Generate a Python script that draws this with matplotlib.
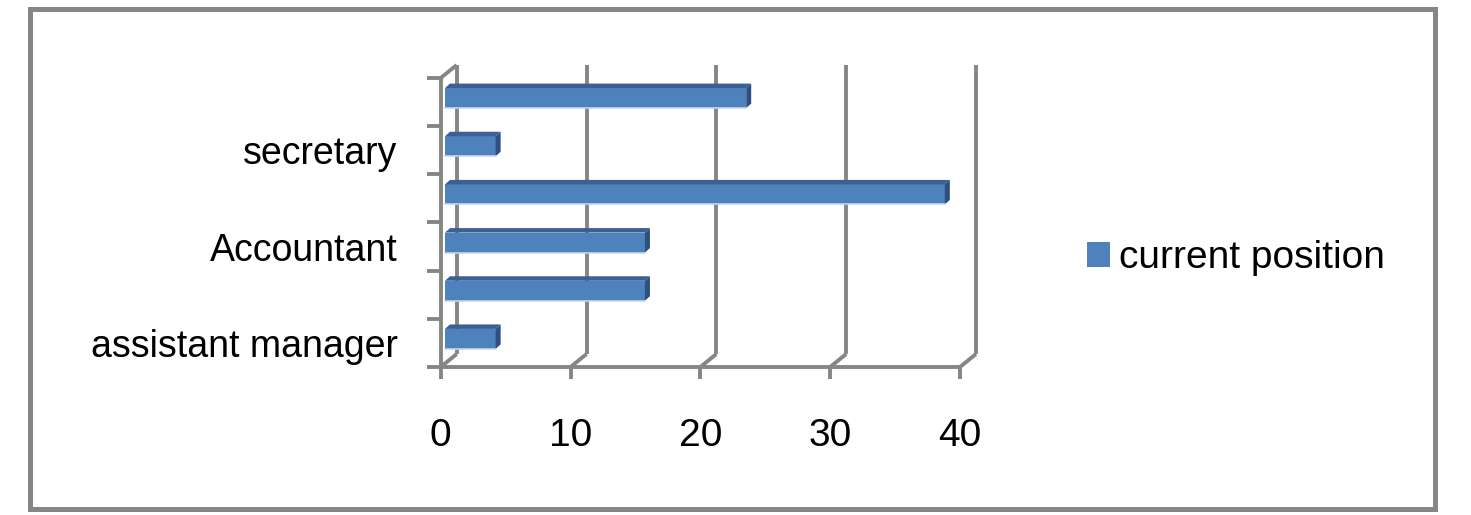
import numpy as np
import matplotlib
matplotlib.use("Agg")
import matplotlib.pyplot as plt
from matplotlib.patches import Polygon, Rectangle
from matplotlib.transforms import ScaledTranslation

# data (bottom to top); only every other category label is shown in the chart
categories = ["assistant manager", "", "Accountant", "", "secretary", ""]
values = [3.9, 15.4, 15.4, 38.5, 3.9, 23.2]
series_name = "current position"
x_ticks = [0, 10, 20, 30, 40]

W, H, DPI = 1471, 515, 100
GRAY = "#868686"
FRONT = "#4f81bd"
TOP = "#3a6193"
SIDE = "#2d5080"

plt.rcParams["font.family"] = ["Liberation Sans", "DejaVu Sans"]

fig = plt.figure(figsize=(W / DPI, H / DPI), dpi=DPI)


def px_rect(x0, y_top, x1, y_bot):
    return [x0 / W, 1 - y_bot / H, (x1 - x0) / W, (y_bot - y_top) / H]


# outer chart border
fig.add_artist(Rectangle((30 / W, 1 - 509 / H), 1405 / W, 500 / H,
                         transform=fig.transFigure, fill=False,
                         edgecolor=GRAY, linewidth=3.6))

ax_left, ax_right, ax_top, ax_bot = 440.7, 960.0, 78.0, 367.0
ax = fig.add_axes(px_rect(ax_left, ax_top, ax_right, ax_bot))
ax.set_facecolor("none")
n = len(categories)
ax.set_xlim(x_ticks[0], x_ticks[-1])
ax.set_ylim(-0.5, n - 0.5)

sx = (ax_right - ax_left) / (x_ticks[-1] - x_ticks[0])  # px per unit
sy = (ax_bot - ax_top) / n                              # px per category

# depth offsets (pixels -> data units)
BACK_DX, BACK_DY = 16 / sx, 13 / sy
MID_DX, MID_DY = 4.3 / sx, 4.0 / sy
BAR_DX, BAR_DY = 5.0 / sx, 4.5 / sy
LW = 2.8

# back wall gridlines
back_tr = ax.transData + ScaledTranslation(16 / DPI, 13 / DPI, fig.dpi_scale_trans)
for v in x_ticks:
    ax.plot([v, v], [-0.5, n - 0.5], color=GRAY, lw=LW, transform=back_tr,
            clip_on=False, zorder=0.5, solid_capstyle="butt")
    ax.plot([v, v + BACK_DX], [-0.5, -0.5 + BACK_DY], color=GRAY, lw=LW,
            clip_on=False, zorder=0.5, solid_capstyle="butt")
ax.plot([0, BACK_DX], [n - 0.5, n - 0.5 + BACK_DY], color=GRAY, lw=LW,
        clip_on=False, zorder=0.5, solid_capstyle="butt")

# bars: front face + top and side faces
ypos = np.arange(n)
bars = ax.barh(ypos + MID_DY, values, left=MID_DX, height=0.415,
               color=FRONT, zorder=1, label=series_name, clip_on=False)
for b in bars:
    x0, y0, w, h = b.get_x(), b.get_y(), b.get_width(), b.get_height()
    x1, y1 = x0 + w, y0 + h
    ax.add_patch(Polygon([(x0, y1), (x1, y1), (x1 + BAR_DX, y1 + BAR_DY),
                          (x0 + BAR_DX, y1 + BAR_DY)], closed=True,
                         facecolor=TOP, edgecolor="none", zorder=1, clip_on=False))
    ax.add_patch(Polygon([(x1, y0), (x1, y1), (x1 + BAR_DX, y1 + BAR_DY),
                          (x1 + BAR_DX, y0 + BAR_DY)], closed=True,
                         facecolor=SIDE, edgecolor="none", zorder=1, clip_on=False))
    ax.plot([x0, x1], [y0, y0], color="#c6d6ea", lw=1.2, zorder=1.1,
            clip_on=False)

# axes
for side in ("top", "right"):
    ax.spines[side].set_visible(False)
for side in ("left", "bottom"):
    ax.spines[side].set_color(GRAY)
    ax.spines[side].set_linewidth(LW)
    ax.spines[side].set_zorder(2)

ax.set_xticks(x_ticks)
ax.set_xticklabels([str(t) for t in x_ticks], fontsize=28)
ax.tick_params(axis="x", length=8.6, width=LW, color=GRAY, pad=28)

ax.set_yticks(ypos)
ax.set_yticklabels(categories, fontsize=27)
ax.tick_params(axis="y", which="major", length=0, pad=31)
ax.set_yticks(np.arange(-0.5, n, 1), minor=True)
ax.tick_params(axis="y", which="minor", length=10, width=LW, color=GRAY)

fig.legend(handles=[bars], labels=[series_name], loc="center left",
           bbox_to_anchor=(1087 / W, 1 - 258 / H), frameon=False,
           fontsize=28, borderpad=0, borderaxespad=0,
           handlelength=0.6, handleheight=0.6, handletextpad=0.22)

fig.savefig("out.png", dpi=DPI)
